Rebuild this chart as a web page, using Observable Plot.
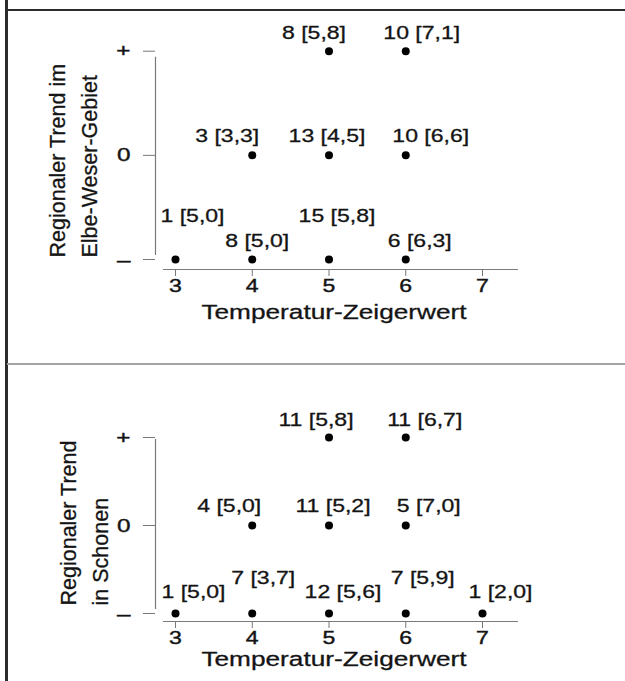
<!DOCTYPE html>
<html>
<head>
<meta charset="utf-8">
<script src="https://cdn.jsdelivr.net/npm/d3@7"></script>
<script src="https://cdn.jsdelivr.net/npm/@observablehq/plot@0.6"></script>
<style>
  html, body { margin: 0; padding: 0; background: #ffffff; }
  #page { position: relative; width: 625px; height: 681px; overflow: hidden;
          font-family: "Liberation Sans", Arial, Helvetica, sans-serif; }
  #page svg { position: absolute; left: 0; }
  .edge-left { position: absolute; left: 5px; top: 0; width: 3px; height: 681px; background: #2b2b2b; }
  .edge-top { position: absolute; left: 6px; top: 9px; width: 619px; height: 2px; background: #2b2b2b; }
  .divider { position: absolute; left: 7px; top: 363px; width: 618px; height: 2px; background: #a4a4a4; }
</style>
</head>
<body>
<div id="page">
  <div class="edge-left"></div>
  <div class="edge-top"></div>
  <div class="divider"></div>
</div>
<script>
// ---- data ----
const xTicks = [3, 4, 5, 6, 7];
const yTicks = [-1, 0, 1];
const yTickLabels = ["–", "0", "+"];
const xTitle = "Temperatur-Zeigerwert";

// Elbe-Weser-Gebiet
const ewTemp  = [5, 6, 4, 5, 6, 3, 4, 5, 6];
const ewTrend = [1, 1, 0, 0, 0, -1, -1, -1, -1];
const ewCount = [8, 10, 3, 13, 10, 1, 8, 15, 6];
const ewMean  = ["5,8", "7,1", "3,3", "4,5", "6,6", "5,0", "5,0", "5,8", "6,3"];
const ewTitle = ["Regionaler Trend im", "Elbe-Weser-Gebiet"];

// Schonen
const skTemp  = [5, 6, 4, 5, 6, 3, 4, 5, 6, 7];
const skTrend = [1, 1, 0, 0, 0, -1, -1, -1, -1, -1];
const skCount = [11, 11, 4, 11, 5, 1, 7, 12, 7, 1];
const skMean  = ["5,8", "6,7", "5,0", "5,2", "7,0", "5,0", "3,7", "5,6", "5,9", "2,0"];
const skTitle = ["Regionaler Trend", "in Schonen"];

// ---- layout (label nudges in px, relative to each point) ----
const ewLabelNudge = [[-15,-18],[16,-18],[-25,-19],[-2,-19],[25,-19],[17,-43],[5,-18],[8,-43],[14,-18]];
const skLabelNudge = [[-13,-17],[19,-17],[-23,-19],[4,-19],[23,-19],[18,-21],[11,-35],[14,-21],[17,-35],[18,-21]];

const FONT = "'Liberation Sans', Arial, Helvetica, sans-serif";
const WIDEN = 1.28;
const INK = "#141414";

function widen(svg, k) {
  svg.querySelectorAll("text").forEach(t => {
    const tr = t.getAttribute("transform") || "";
    if (tr.includes("rotate")) return;
    t.setAttribute("transform", (tr + ` scale(${k},1)`).trim());
  });
}

function panel(cfg) {
  const rows = cfg.temp.map((t, i) => ({
    temp: t, trend: cfg.trend[i], label: `${cfg.count[i]} [${cfg.mean[i]}]`
  }));
  const labelMarks = rows.map((r, i) => Plot.text([r], {
    x: "temp", y: "trend", text: "label",
    dx: cfg.nudge[i][0], dy: cfg.nudge[i][1],
    lineAnchor: "middle", fontSize: 18, fill: INK,
    stroke: INK, strokeWidth: 0.3
  }));
  const svg = Plot.plot({
    width: 625, height: cfg.height,
    marginLeft: 155, marginBottom: cfg.marginBottom, marginTop: 0, marginRight: 0,
    style: { fontFamily: FONT, fontSize: "18px", background: "transparent", overflow: "visible" },
    x: { domain: [xTicks[0], xTicks[xTicks.length - 1]], range: [175, 482] },
    y: { domain: [yTicks[0], yTicks[yTicks.length - 1]], range: cfg.yRange },
    marks: [
      Plot.ruleX([xTicks[0]], { y1: yTicks[0], y2: yTicks[yTicks.length - 1], dx: -20,
        insetTop: cfg.yLineTop, insetBottom: cfg.yLineBottom, stroke: "#7a7a7a", strokeWidth: 1.2 }),
      Plot.ruleY([yTicks[0]], { x1: xTicks[0], x2: xTicks[xTicks.length - 1], dy: cfg.axisGap,
        insetLeft: -12, insetRight: -36, stroke: "#7a7a7a", strokeWidth: 1.2 }),
      Plot.axisX(xTicks, { anchor: "bottom", tickSize: 7, tickPadding: 3, fontSize: 18,
        stroke: "#777", fill: INK, label: null }),
      Plot.axisY(yTicks, { anchor: "left", tickSize: 12, tickPadding: 13, fontSize: 19,
        tickFormat: d => yTickLabels[yTicks.indexOf(d)], stroke: "#777", fill: INK, label: null }),
      Plot.dot(rows, { x: "temp", y: "trend", r: 4, fill: "#000", stroke: "none" }),
      ...labelMarks,
      Plot.text([xTitle], { x: () => (xTicks[0] + xTicks[xTicks.length - 1]) / 2, frameAnchor: "bottom",
        lineAnchor: "top", dx: 5, dy: cfg.titleDy, fontSize: 20.5, fill: INK, stroke: INK, strokeWidth: 0.3 }),
      Plot.text([cfg.title.join("\n")], { x: () => xTicks[0], y: () => yTicks[0],
        rotate: -90, textAnchor: "start", lineAnchor: "top", lineHeight: cfg.lineHeight,
        dx: cfg.titleDx, dy: cfg.titleDyRot, fontSize: 21.5, fill: INK, stroke: INK, strokeWidth: 0.3 })
    ]
  });
  widen(svg, WIDEN);
  // give the axis tick labels the same slightly heavier ink as the scan
  svg.querySelectorAll("g[aria-label='x-axis tick label'] text, g[aria-label='y-axis tick label'] text")
    .forEach(t => { t.setAttribute("stroke", INK); t.setAttribute("stroke-width", "0.4"); });
  svg.style.top = cfg.top + "px";
  return svg;
}

const page = document.getElementById("page");
page.appendChild(panel({
  temp: ewTemp, trend: ewTrend, count: ewCount, mean: ewMean, title: ewTitle, nudge: ewLabelNudge,
  top: 0, height: 364, marginBottom: 364 - 269, yRange: [259, 50.7], axisGap: 10,
  yLineTop: -4, yLineBottom: -6, titleDy: 35, lineHeight: 1.52, titleDx: -134, titleDyRot: -2
}));
page.appendChild(panel({
  temp: skTemp, trend: skTrend, count: skCount, mean: skMean, title: skTitle, nudge: skLabelNudge,
  top: 364, height: 317, marginBottom: 317 - 257, yRange: [249, 73], axisGap: 8,
  yLineTop: -4, yLineBottom: -2, titleDy: 30, lineHeight: 1.48, titleDx: -122, titleDyRot: -8
}));
</script>
</body>
</html>
